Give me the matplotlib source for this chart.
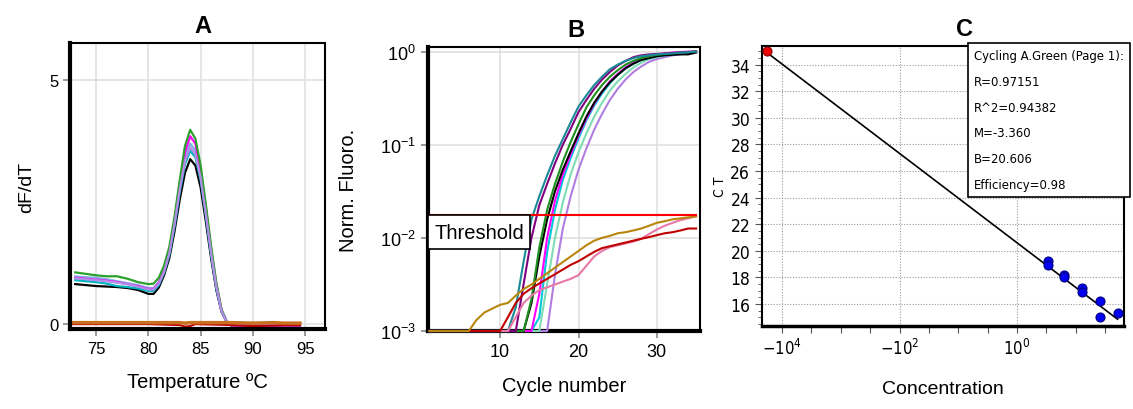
import matplotlib
matplotlib.use("Agg")
import matplotlib.pyplot as plt
from matplotlib.patches import Rectangle
from matplotlib import font_manager
import numpy as np

plt.rcParams['font.family'] = ['Liberation Sans', 'DejaVu Sans']

# pick a condensed face if one is installed
_cond = [f for f in font_manager.fontManager.ttflist
         if 'condensed' in str(f.stretch).lower() or 'narrow' in f.name.lower() or 'condensed' in f.name.lower()]

# ---------------- Panel A data: melt curves ----------------
temp = [73, 74, 75, 76, 77, 78, 79, 80, 80.5, 81, 81.5, 82, 82.5, 83, 83.5, 84,
        84.5, 85, 85.5, 86, 86.5, 87, 87.5, 88, 89, 90, 91, 92, 93, 94, 94.5]
melt_black = [0.82, 0.80, 0.78, 0.77, 0.76, 0.74, 0.70, 0.62, 0.62, 0.75, 1.00, 1.35, 1.90, 2.55, 3.10, 3.38,
              3.25, 2.80, 2.10, 1.35, 0.70, 0.25, 0.04, -0.04, -0.03, -0.04, -0.05, -0.05, -0.04, -0.04, -0.03]
melt_cyan = [0.90, 0.88, 0.86, 0.83, 0.78, 0.76, 0.73, 0.68, 0.68, 0.80, 1.05, 1.42, 2.00, 2.70, 3.28, 3.55,
             3.42, 2.95, 2.22, 1.42, 0.75, 0.27, 0.04, -0.03, -0.02, -0.03, -0.03, -0.03, -0.03, -0.03, -0.02]
melt_lightblue = [0.98, 0.96, 0.95, 0.92, 0.88, 0.84, 0.80, 0.74, 0.74, 0.86, 1.10, 1.48, 2.08, 2.80, 3.40, 3.70,
                  3.56, 3.05, 2.30, 1.48, 0.78, 0.28, 0.05, -0.02, 0.00, 0.00, -0.01, -0.01, 0.00, 0.00, 0.00]
melt_magenta = [0.95, 0.93, 0.91, 0.89, 0.86, 0.82, 0.78, 0.72, 0.72, 0.85, 1.10, 1.50, 2.12, 2.86, 3.52, 3.85,
                3.70, 3.15, 2.38, 1.54, 0.82, 0.29, 0.05, -0.03, -0.06, -0.07, -0.06, -0.06, -0.05, -0.05, -0.04]
melt_green = [1.06, 1.03, 1.00, 0.98, 0.98, 0.93, 0.86, 0.82, 0.83, 0.95, 1.20, 1.58, 2.20, 2.95, 3.65, 3.98,
              3.80, 3.25, 2.45, 1.60, 0.85, 0.30, 0.05, -0.02, -0.02, -0.02, -0.02, -0.02, -0.02, -0.02, -0.02]
melt_lavender = [0.94, 0.92, 0.90, 0.88, 0.85, 0.82, 0.77, 0.71, 0.71, 0.83, 1.07, 1.45, 2.05, 2.76, 3.34, 3.62,
                 3.48, 3.00, 2.26, 1.46, 0.77, 0.27, 0.04, -0.02, -0.02, -0.02, -0.02, -0.02, -0.02, -0.02, -0.02]
melt_neg_temp = [72.6, 80, 83, 83.5, 84, 84.5, 88, 90, 92, 93, 94.5]
melt_neg_orange = [0.03, 0.03, 0.03, 0.02, 0.03, 0.03, 0.03, 0.02, 0.03, 0.02, 0.02]
melt_neg_red = [0.0, 0.0, -0.02, -0.05, -0.04, 0.0, -0.02, -0.04, -0.03, -0.02, -0.02]

# ---------------- Panel B data: amplification curves ----------------
cycles = list(range(1, 36))
amp_teal = [0.001]*11 + [0.0018, 0.0056, 0.0158, 0.028, 0.047, 0.076, 0.115, 0.174, 0.257, 0.339, 0.437,
                         0.537, 0.646, 0.724, 0.794, 0.851, 0.891, 0.912, 0.933, 0.944, 0.955, 0.972, 0.986, 1.0]
amp_purple = [0.001]*12 + [0.0032, 0.010, 0.0224, 0.038, 0.063, 0.100, 0.148, 0.224, 0.302, 0.398,
                           0.501, 0.603, 0.708, 0.794, 0.871, 0.912, 0.933, 0.944, 0.955, 0.966, 0.977, 0.988, 1.0]
amp_green = [0.001]*13 + [0.0022, 0.0079, 0.020, 0.038, 0.066, 0.107, 0.166, 0.251, 0.339, 0.437,
                          0.537, 0.631, 0.724, 0.794, 0.851, 0.891, 0.923, 0.944, 0.966, 0.977, 0.989, 1.0]
amp_black = [0.001]*13 + [0.0020, 0.0063, 0.0158, 0.0316, 0.054, 0.085, 0.132, 0.200, 0.282, 0.372,
                          0.468, 0.562, 0.661, 0.741, 0.813, 0.851, 0.891, 0.912, 0.923, 0.933, 0.933, 0.977]
amp_magenta = [0.001]*14 + [0.0025, 0.010, 0.0251, 0.048, 0.079, 0.126, 0.191, 0.275, 0.372,
                            0.479, 0.575, 0.676, 0.759, 0.832, 0.891, 0.933, 0.955, 0.977, 0.988, 1.0, 1.0]
amp_cyan = [0.001]*14 + [0.0014, 0.0071, 0.020, 0.042, 0.072, 0.117, 0.182, 0.263, 0.355,
                         0.457, 0.562, 0.661, 0.741, 0.813, 0.851, 0.891, 0.912, 0.933, 0.955, 0.977, 1.0]
amp_aqua = [0.001]*15 + [0.0032, 0.010, 0.024, 0.048, 0.083, 0.132, 0.200, 0.282,
                         0.380, 0.479, 0.575, 0.676, 0.759, 0.832, 0.871, 0.912, 0.933, 0.955, 0.977, 1.0]
amp_lavender = [0.001]*16 + [0.0040, 0.0126, 0.028, 0.054, 0.091, 0.145, 0.214,
                             0.302, 0.398, 0.501, 0.603, 0.692, 0.776, 0.832, 0.871, 0.912, 0.933, 0.966, 1.0]
amp_gold = [0.001]*6 + [0.00132, 0.00158, 0.00174, 0.00191, 0.00200, 0.00240, 0.00282, 0.00316, 0.00363,
                        0.00417, 0.00479, 0.00550, 0.00631, 0.00724, 0.00832, 0.00933, 0.0100, 0.0105,
                        0.0112, 0.0115, 0.0120, 0.0126, 0.0135, 0.0145, 0.0151, 0.0158, 0.0162, 0.0166, 0.0170]
amp_darkred = [0.001]*10 + [0.00141, 0.00200, 0.00251, 0.00288, 0.00324, 0.00363, 0.00407, 0.00457,
                            0.00513, 0.00562, 0.00631, 0.00708, 0.00776, 0.00813, 0.00851, 0.00891, 0.00933,
                            0.00977, 0.0102, 0.0107, 0.0112, 0.0115, 0.0120, 0.0126, 0.0126]
amp_pink = [0.001]*11 + [0.00141, 0.00200, 0.00240, 0.00275, 0.00295, 0.00316, 0.00339, 0.00363, 0.00398,
                         0.00501, 0.00631, 0.00724, 0.00794, 0.00832, 0.00871, 0.00912, 0.00977, 0.0110,
                         0.0123, 0.0135, 0.0145, 0.0155, 0.0162, 0.0170]
threshold = 0.0174

# ---------------- Panel C data: standard curve ----------------
std_log_conc = [0.53, 0.53, 0.80, 0.80, 1.10, 1.10, 1.41, 1.41, 1.71]
std_ct = [19.2, 18.9, 18.2, 18.0, 17.2, 16.9, 16.2, 15.0, 15.3]
ntc_log_conc = [-4.26]
ntc_ct = [35.0]
fit_slope = -3.360
fit_intercept = 20.606
fit_x = [-4.26, 1.71]
fit_text = ["Cycling A.Green (Page 1):", "R=0.97151", "R^2=0.94382",
            "M=-3.360", "B=20.606", "Efficiency=0.98"]
c_xticks = [-4, -2, 0]
c_xticklabels = [r"$\mathregular{-10^{4}}$", r"$\mathregular{-10^{2}}$", r"$\mathregular{10^{0}}$"]

W, H = 1133, 410
fig = plt.figure(figsize=(W/100, H/100), dpi=100)

if _cond:
    NARROW_FP = dict(family=_cond[0].name, stretch=_cond[0].stretch)
else:
    NARROW_FP = dict(family='Liberation Sans')

def px(l, t, r, b):
    return [l/W, 1 - b/H, (r-l)/W, (b-t)/H]

# ================= Panel A =================
axA = fig.add_axes(px(70, 44, 325, 330))
for y, c in [(melt_black, 'black'), (melt_cyan, '#00b5c0'), (melt_lightblue, '#7fb2e0'),
             (melt_magenta, '#ff00ff'), (melt_green, '#2ca02c'), (melt_lavender, '#b38ce6')]:
    axA.plot(temp, y, color=c, lw=1.6)
axA.plot(melt_neg_temp, melt_neg_red, color='#c00000', lw=1.5)
axA.plot(melt_neg_temp, melt_neg_orange, color='#c87020', lw=2.5)
axA.set_xlim(72.5, 96.9)
axA.set_ylim(-0.1, 5.76)
axA.set_xticks([75, 80, 85, 90, 95])
axA.set_yticks([0, 5])
axA.grid(True, color='#e0e0e0', lw=1.2)
axA.set_axisbelow(True)
axA.tick_params(labelsize=12, color='#888888', length=5, width=1.2)
for s in ['left', 'bottom']:
    axA.spines[s].set_linewidth(3)
for s in ['top', 'right']:
    axA.spines[s].set_linewidth(1.5)
axA.set_xlabel("Temperature ºC", fontsize=14.5, labelpad=12)
axA.set_ylabel("dF/dT", fontsize=14, labelpad=10)
axA.set_title("A", fontsize=17, fontweight='bold', pad=8, x=0.52)

# ================= Panel B =================
axB = fig.add_axes(px(428, 48, 700, 332))
axB.set_yscale('log')
for y, c in [(amp_lavender, '#b07ee0'), (amp_aqua, '#7fdcb4'), (amp_cyan, '#00c8d8'),
             (amp_magenta, '#ff00ff'), (amp_black, 'black'), (amp_green, '#1f8f1f'),
             (amp_purple, '#800080'), (amp_teal, '#1a8a96'),
             (amp_pink, '#e878a8'), (amp_darkred, '#c00000'), (amp_gold, '#b8860b')]:
    axB.plot(cycles, y, color=c, lw=1.5, zorder=3, clip_on=False)
axB.set_xlim(0.8, 35.5)
axB.set_ylim(1e-3, 1.12)
axB.axhline(threshold, xmin=0, xmax=(35 - 0.8) / (35.5 - 0.8), color='#ff0000', lw=1.5, zorder=4)
axB.add_patch(Rectangle((0.8, 10**-2.12), 13.0, threshold - 10**-2.12, facecolor='white',
                        edgecolor='black', lw=1.2, zorder=5))
axB.text(1.6, 10**-1.94, "Threshold", fontsize=14.5, va='center', ha='left', zorder=6)
axB.set_xticks([10, 20, 30])
axB.set_yticks([1e-3, 1e-2, 1e-1, 1e0])
axB.minorticks_off()
axB.grid(True, color='#e0e0e0', lw=1.2)
axB.set_axisbelow(True)
axB.tick_params(labelsize=13, color='#888888', length=5, width=1.2)
for s in ['left', 'bottom']:
    axB.spines[s].set_linewidth(3)
    axB.spines[s].set_zorder(2.6)
for s in ['top', 'right']:
    axB.spines[s].set_linewidth(1.5)
axB.set_xlabel("Cycle number", fontsize=14.5, labelpad=12)
axB.set_ylabel("Norm. Fluoro.", fontsize=14.5, labelpad=16)
axB.set_title("B", fontsize=17, fontweight='bold', pad=8, x=0.545)

# ================= Panel C =================
axC = fig.add_axes(px(762, 47, 1124, 327))
axC.plot(fit_x, [fit_intercept + fit_slope * x for x in fit_x], color='black', lw=1.2, zorder=3)
axC.scatter(std_log_conc, std_ct, s=42, color='#0000ee', edgecolor='#000080', lw=0.8, zorder=4)
axC.scatter(ntc_log_conc, ntc_ct, s=42, color='#ee0000', edgecolor='#800000', lw=0.8, zorder=4)
axC.set_xlim(-4.34, 1.82)
axC.set_ylim(14.35, 35.4)
axC.set_yticks(range(16, 35, 2))
axC.set_yticks(np.arange(14.5, 35.5, 0.5), minor=True)
axC.set_xticks(c_xticks)
axC.set_xticklabels(c_xticklabels)
axC.set_xticks([-3.5, -3, -2.5, -1.5, -1, -0.5, 0.5, 1, 1.5], minor=True)
axC.grid(True, which='major', color='#999999', lw=0.8, ls=(0, (1, 1.5)))
axC.set_axisbelow(True)
for lab in axC.get_yticklabels() + axC.get_xticklabels():
    lab.set_family(NARROW_FP['family'])
    if 'stretch' in NARROW_FP:
        lab.set_stretch(NARROW_FP['stretch'])
axC.tick_params(axis='y', labelsize=12.5, length=5, width=0.8, color='#555555')
axC.tick_params(axis='y', which='minor', length=3, width=0.6, color='#555555')
axC.tick_params(axis='x', labelsize=12, length=5, width=0.8, color='#555555')
axC.tick_params(axis='x', which='minor', length=5, width=0.8, color='#555555')
for s in ['left', 'top', 'right']:
    axC.spines[s].set_linewidth(1.5)
axC.spines['bottom'].set_linewidth(2.5)
axC.set_xlabel("Concentration", fontsize=14, labelpad=16)
axC.set_ylabel("C T", fontsize=10, labelpad=2, **NARROW_FP)
axC.set_title("C", fontsize=17, fontweight='bold', pad=8, x=0.56)
axC.text(0.586, 0.989, "\n".join(fit_text), transform=axC.transAxes, fontsize=9.4,
         va='top', ha='left', linespacing=2.28,
         bbox=dict(boxstyle='square,pad=0.45', facecolor='white', edgecolor='black', lw=1.2),
         zorder=6, clip_on=False, **NARROW_FP)

fig.savefig("out.png", dpi=100)
